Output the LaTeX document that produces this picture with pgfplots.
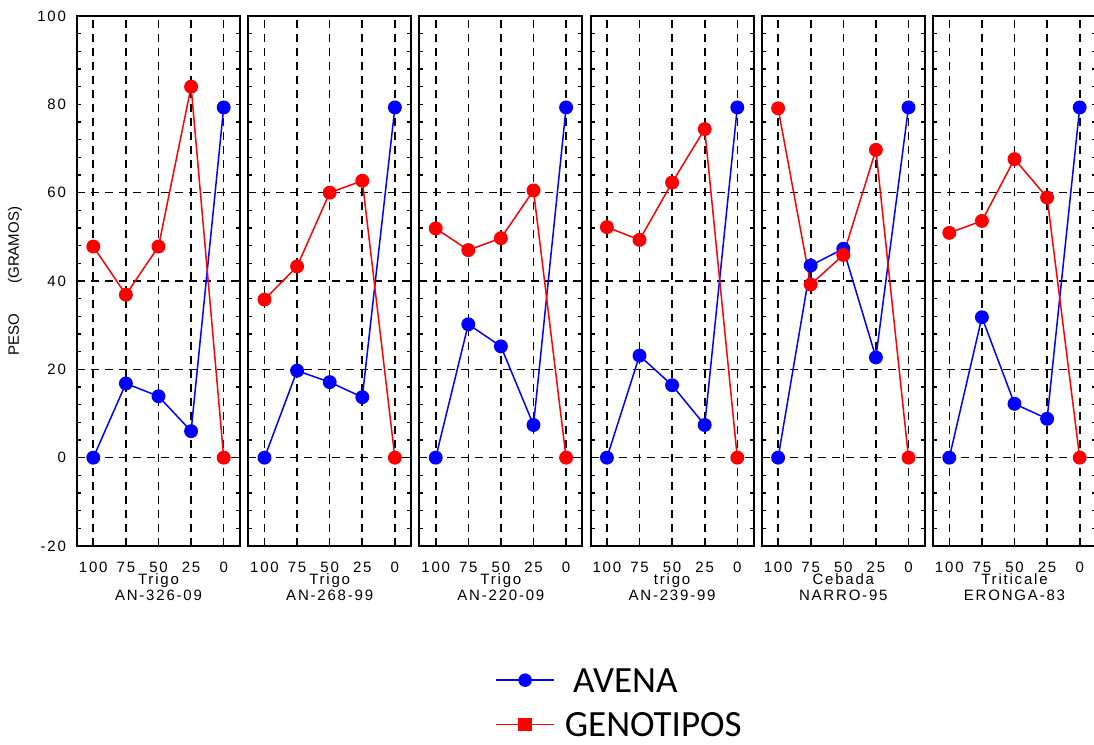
\documentclass[border=0pt]{standalone}
\usepackage{pgfplots}
\pgfplotsset{compat=1.18}
\usepackage{fontspec}
\setmainfont{Liberation Sans}
\newfontfamily\legfont{Carlito}
\newcommand{\tickfont}{\fontsize{7.5}{8}\selectfont\addfontfeature{LetterSpace=12}}

\pgfplotsset{
  panel/.style={
    scale only axis, width=81.5pt, height=265pt,
    anchor=north west,
    xmin=-0.5, xmax=4.5, ymin=-20, ymax=100,
    xtick={0,...,4}, xticklabels={100,75,50,25,0},
    ytick={-20,0,...,100}, minor y tick num=4,
    tick align=inside, ytick pos=both,
    major tick length=2pt, minor tick length=2pt,
    xtick style={draw=none},
    ytick style={black, line width=0.6pt},
    xmajorgrids,
    grid style={black, dash pattern=on 4pt off 3pt, line width=0.8pt},
    extra y ticks={0,20,40,60}, extra y tick labels={},
    extra y tick style={grid=major, major tick length=0pt},
    axis line style={black, line width=1pt},
    /pgf/number format/assume math mode=true,
    ticklabel style={font=\tickfont},
    xticklabel style={yshift=-4.5pt},
    yticklabel style={xshift=-2pt},
    xlabel style={at={(axis description cs:0.5,0)}, anchor=north, yshift=-10.5pt, align=center, font=\tickfont},
    every axis plot/.append style={line width=0.75pt, mark=*, mark size=3.1pt},
  },
  noyl/.style={yticklabels={}},
}

\begin{document}
\begin{tikzpicture}
\useasboundingbox (0pt,0pt) rectangle (547pt,-372.5pt);

% Panel 1
\begin{axis}[panel, at={(38.5pt,-8pt)},
  xlabel={Trigo\\AN-326-09},
  ylabel={PESO\hspace{15pt}(GRAMOS)},
  ylabel style={at={(axis description cs:-0.38,0.5)}, anchor=center, font=\fontsize{7.5}{9}\selectfont},
  legend style={at={(axis description cs:2.5644,-0.2105)}, anchor=north west, draw=none, fill=none,
    inner sep=0pt, row sep=0pt,
    font={\fontsize{18.5}{22}\selectfont\legfont},
    nodes={text height=13pt, text depth=1pt, inner ysep=4.1pt, inner xsep=5pt}},
  legend cell align=left,
  legend image code/.code={\draw[mark repeat=2, mark phase=2, #1] plot coordinates {(0pt,0pt) (14.5pt,0pt) (29pt,0pt)};},
]
\addplot[blue, forget plot] coordinates {(0,0) (1,16.8) (2,13.9) (3,6.0) (4,79.3)};
\addplot[red, forget plot] coordinates {(0,47.8) (1,36.9) (2,47.8) (3,84.0) (4,0)};
\addlegendimage{blue, mark=*, mark size=3pt, line width=0.75pt}
\addlegendentry{\ AVENA}
\addlegendimage{red, mark=square*, mark size=3pt, line width=0.75pt}
\addlegendentry{GENOTIPOS}
\end{axis}

% Panel 2
\begin{axis}[panel, noyl, at={(124.1pt,-8pt)}, xlabel={Trigo\\AN-268-99}]
\addplot[blue] coordinates {(0,0) (1,19.7) (2,17.1) (3,13.7) (4,79.3)};
\addplot[red] coordinates {(0,35.8) (1,43.3) (2,60.0) (3,62.7) (4,0)};
\end{axis}

% Panel 3
\begin{axis}[panel, noyl, at={(209.7pt,-8pt)}, xlabel={Trigo\\AN-220-09}]
\addplot[blue] coordinates {(0,0) (1,30.2) (2,25.2) (3,7.4) (4,79.3)};
\addplot[red] coordinates {(0,51.9) (1,47.0) (2,49.7) (3,60.5) (4,0)};
\end{axis}

% Panel 4
\begin{axis}[panel, noyl, at={(295.3pt,-8pt)}, xlabel={trigo\\AN-239-99}]
\addplot[blue] coordinates {(0,0) (1,23.1) (2,16.4) (3,7.4) (4,79.3)};
\addplot[red] coordinates {(0,52.2) (1,49.3) (2,62.3) (3,74.4) (4,0)};
\end{axis}

% Panel 5
\begin{axis}[panel, noyl, at={(380.9pt,-8pt)}, xlabel={Cebada\\NARRO-95}]
\addplot[blue] coordinates {(0,0) (1,43.5) (2,47.3) (3,22.7) (4,79.3)};
\addplot[red] coordinates {(0,79.1) (1,39.2) (2,45.9) (3,69.7) (4,0)};
\end{axis}

% Panel 6
\begin{axis}[panel, noyl, at={(466.5pt,-8pt)}, xlabel={Triticale\\ERONGA-83}]
\addplot[blue] coordinates {(0,0) (1,31.8) (2,12.2) (3,8.8) (4,79.3)};
\addplot[red] coordinates {(0,50.9) (1,53.6) (2,67.6) (3,58.9) (4,0)};
\end{axis}
\end{tikzpicture}
\end{document}
